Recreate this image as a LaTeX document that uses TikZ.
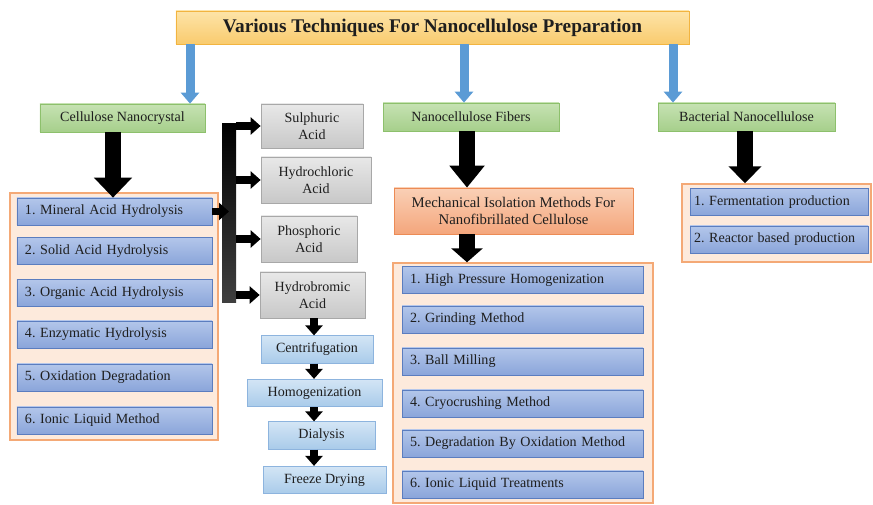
\documentclass[tikz,border=0pt]{standalone}
\usepackage{fontspec}
\setmainfont{Liberation Serif}
\usetikzlibrary{arrows.meta}
\definecolor{nc_gold}{HTML}{F9CB6E}
\definecolor{nc_goldlt}{HTML}{FDE4A8}
\definecolor{nc_goldln}{HTML}{F2B440}
\definecolor{nc_green}{HTML}{A6CF8B}
\definecolor{nc_greenlt}{HTML}{C6E2B3}
\definecolor{nc_greenln}{HTML}{8DC06C}
\definecolor{nc_peach}{HTML}{FDEADC}
\definecolor{nc_peachln}{HTML}{F4A976}
\definecolor{nc_blue}{HTML}{8AA5DA}
\definecolor{nc_bluelt}{HTML}{B3C6EA}
\definecolor{nc_blueln}{HTML}{5B7DBF}
\definecolor{nc_sky}{HTML}{A9CBEA}
\definecolor{nc_skylt}{HTML}{D3E5F5}
\definecolor{nc_skyln}{HTML}{8DB4DE}
\definecolor{nc_gray}{HTML}{C8C8C8}
\definecolor{nc_graylt}{HTML}{E8E8E8}
\definecolor{nc_grayln}{HTML}{A8A8A8}
\definecolor{nc_orange}{HTML}{F4A67C}
\definecolor{nc_orangelt}{HTML}{FAD0B6}
\definecolor{nc_orangeln}{HTML}{EC8B55}
\definecolor{nc_arrow}{HTML}{5B9BD5}
\definecolor{nc_text}{HTML}{1E1E1E}
\frenchspacing

\tikzset{
  boxtext/.style={text=nc_text, font=\fontsize{8}{10}\selectfont, inner sep=0pt},
  titlebox/.style={boxtext, draw=nc_goldln, top color=nc_goldlt, bottom color=nc_gold,
    font=\fontsize{11}{12}\selectfont\bfseries},
  greenbox/.style={boxtext, draw=nc_greenln, top color=nc_greenlt, bottom color=nc_green,
    minimum height=5.6mm},
  listbox/.style={draw=nc_peachln, fill=nc_peach, line width=0.8pt, inner sep=0pt},
  itembox/.style={boxtext, draw=nc_blueln, top color=nc_bluelt, bottom color=nc_blue,
    minimum height=5.4mm, inner xsep=1.6mm, align=left},
  acidbox/.style={boxtext, draw=nc_grayln, top color=nc_graylt, bottom color=nc_gray,
    minimum height=9.2mm, align=center},
  stepbox/.style={boxtext, draw=nc_skyln, top color=nc_skylt, bottom color=nc_sky,
    minimum height=5.5mm},
  mechbox/.style={boxtext, draw=nc_orangeln, top color=nc_orangelt, bottom color=nc_orange,
    align=center, font=\fontsize{8.4}{10}\selectfont},
  bluearrow/.style={nc_arrow, line width=1.8mm, -{Triangle[width=3.6mm,length=2.2mm]}},
  bigarrow/.style={black, line width=3.2mm, -{Triangle[width=6.8mm,length=4.4mm]}},
  smallarrow/.style={black, line width=1.5mm, -{Triangle[width=3.4mm,length=2mm]}}
}

\begin{document}
\begin{tikzpicture}[x=0.2mm, y=-0.2mm]
  \useasboundingbox (0,0) rectangle (873,505);

  % Heading and the three branches
  \node[titlebox, minimum width=102.6mm, minimum height=6.6mm] (title) at (432.5,27.5)
    {Various Techniques For Nanocellulose Preparation};
  \node[greenbox, minimum width=33mm] (cnc) at (122.5,118) {Cellulose Nanocrystal};
  \node[greenbox, minimum width=35.2mm] (ncf) at (471,117) {Nanocellulose Fibers};
  \node[greenbox, minimum width=35.4mm] (bnc) at (746.5,117) {Bacterial Nanocellulose};

  \coordinate (bx1) at (190,0);
  \coordinate (bx2) at (464,0);
  \coordinate (bx3) at (673,0);
  \draw[bluearrow] (title.south -| bx1) -- (cnc.north -| bx1);
  \draw[bluearrow] (title.south -| bx2) -- (ncf.north -| bx2);
  \draw[bluearrow] (title.south -| bx3) -- (bnc.north -| bx3);

  % Cellulose nanocrystal list
  \node[listbox, minimum width=41.6mm, minimum height=49.4mm] (cnclist) at (114,316.5) {};
  \foreach \y/\t [count=\i] in {211.5/{1. Mineral Acid Hydrolysis},
      251/{2. Solid Acid Hydrolysis}, 293/{3. Organic Acid Hydrolysis},
      334.5/{4. Enzymatic Hydrolysis}, 377.5/{5. Oxidation Degradation},
      420.5/{6. Ionic Liquid Method}}
    \node[itembox, text width=35.8mm] (cn\i) at (114.5,\y) {\t};
  \coordinate (cx) at (113,0);
  \draw[bigarrow, -{Triangle[width=7.4mm,length=4mm]}] (cnc.south -| cx) -- (cn1.north -| cx);

  % Acids
  \node[inner sep=0pt, minimum width=2.8mm, minimum height=35.8mm,
    top color=black, bottom color=black!75] (bar) at (229,213.5) {};
  \node[acidbox, minimum width=20.4mm, minimum height=8.8mm] (sul) at (312,126) {Sulphuric\\Acid};
  \node[acidbox, minimum width=22mm] (hcl) at (316,180) {Hydrochloric\\Acid};
  \node[acidbox, minimum width=19.2mm] (pho) at (309,239) {Phosphoric\\Acid};
  \node[acidbox, minimum width=21mm] (hbr) at (312.5,295) {Hydrobromic\\Acid};
  \draw[smallarrow] (cn1.east) -- (cn1.east -| bar.center);
  \foreach \n in {sul,hcl,pho,hbr}
    \draw[smallarrow] (bar.east |- \n.west) -- (\n.west);

  % Work-up steps
  \node[stepbox, minimum width=22.4mm] (cen) at (317,349.5) {Centrifugation};
  \node[stepbox, minimum width=27mm] (hom) at (314.5,393) {Homogenization};
  \node[stepbox, minimum width=21.4mm] (dia) at (321.5,435.5) {Dialysis};
  \node[stepbox, minimum width=24.6mm] (frz) at (324.5,480) {Freeze Drying};
  \coordinate (sx) at (314,0);
  \draw[smallarrow] (hbr.south -| sx) -- (cen.north -| sx);
  \draw[smallarrow] (cen.south -| sx) -- (hom.north -| sx);
  \draw[smallarrow] (hom.south -| sx) -- (dia.north -| sx);
  \draw[smallarrow] (dia.south -| sx) -- (frz.north -| sx);

  % Nanocellulose fibers
  \node[mechbox, minimum width=47.8mm, minimum height=9.2mm] (mech) at (513.5,211)
    {Mechanical Isolation Methods For\\Nanofibrillated Cellulose};
  \node[listbox, minimum width=52mm, minimum height=48mm] (ncflist) at (523,383) {};
  \foreach \y/\t [count=\i] in {280/{1. High Pressure Homogenization},
      319.5/{2. Grinding Method}, 361.5/{3. Ball Milling},
      403.5/{4. Cryocrushing Method}, 443.5/{5. Degradation By Oxidation Method},
      484.5/{6. Ionic Liquid Treatments}}
    \node[itembox, text width=45mm] (nf\i) at (522.5,\y) {\t};
  \coordinate (nx) at (467,0);
  \draw[bigarrow] (ncf.south -| nx) -- (mech.north -| nx);
  \draw[bigarrow, -{Triangle[width=6.2mm,length=2.8mm]}] (mech.south -| nx) -- (ncflist.north -| nx);

  % Bacterial nanocellulose
  \node[listbox, minimum width=37.8mm, minimum height=15.6mm] (bnclist) at (776.5,223) {};
  \node[itembox, text width=34mm, inner xsep=0.8mm] (bn1) at (779,202) {1. Fermentation production};
  \node[itembox, text width=34mm, inner xsep=0.8mm] (bn2) at (779,239.5) {2. Reactor based production};
  \coordinate (tx) at (745,0);
  \draw[bigarrow, -{Triangle[width=6.4mm,length=3.4mm]}] (bnc.south -| tx) -- (bnclist.north -| tx);
\end{tikzpicture}
\end{document}
